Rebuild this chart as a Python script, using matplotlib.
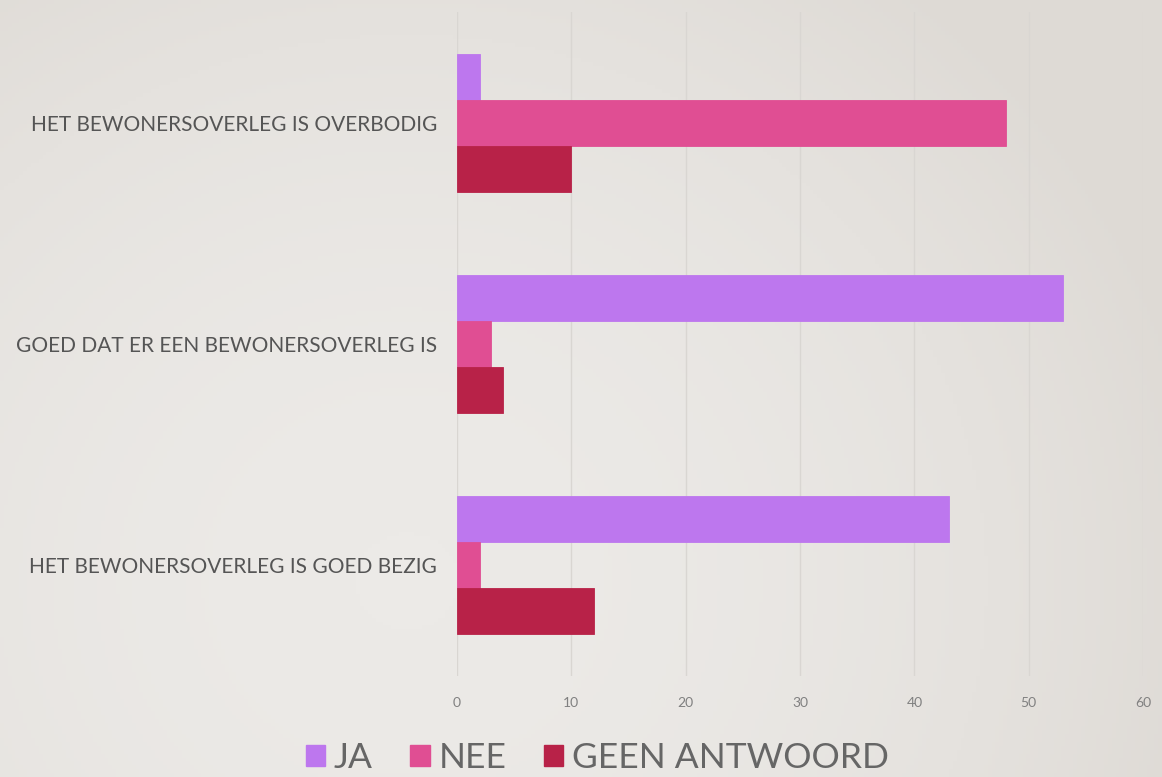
import numpy as np
import matplotlib
matplotlib.use('Agg')
import matplotlib.pyplot as plt
from matplotlib.patches import Patch

##### Data

categories = ['HET BEWONERSOVERLEG IS OVERBODIG',
              'GOED DAT ER EEN BEWONERSOVERLEG IS',
              'HET BEWONERSOVERLEG IS GOED BEZIG']
ja = [2, 53, 43]
nee = [48, 3, 2]
geen = [10, 4, 12]
series_names = ['JA', 'NEE', 'GEEN ANTWOORD']
colors = ['#BD77EE', '#E04E93', '#B82248']
xticks = [0, 10, 20, 30, 40, 50, 60]

plt.rcParams['font.family'] = ['Lato', 'DejaVu Sans']

fig = plt.figure(figsize=(11.62, 7.77), dpi=100)

##### Background: soft gradient like the slide
bg = fig.add_axes([0, 0, 1, 1], zorder=-10)
xx, yy = np.meshgrid(np.linspace(0, 1, 300), np.linspace(0, 1, 200))
shade = 0.5 * ((xx - 0.35) ** 2) + 0.25 * ((yy - 0.75) ** 2)
bg.imshow(shade, cmap=matplotlib.colors.LinearSegmentedColormap.from_list(
    'bg', ['#ECEAE7', '#DEDAD5']), aspect='auto', extent=[0, 1, 0, 1],
    vmin=0, vmax=0.25)
bg.axis('off')

ax = fig.add_axes([0.3933, 0.130, 0.5904, 0.8546])
ax.patch.set_alpha(0)

y = np.arange(len(categories))
h = 0.208
all_series = [ja, nee, geen]
for i in range(3):
    ax.barh(y + (i - 1) * h, all_series[i], height=h, color=colors[i],
            edgecolor=colors[i], linewidth=0.6, zorder=3)

ax.set_xlim(0, 60)
ax.set_ylim(len(categories) - 0.5, -0.5)
ax.set_xticks(xticks)
ax.set_xticklabels([str(t) for t in xticks], color='#808080', fontsize=10)
ax.set_yticks(y)
ax.set_yticklabels(categories, color='#555555', fontsize=15)
ax.tick_params(axis='both', length=0)
ax.tick_params(axis='x', pad=15)
ax.tick_params(axis='y', pad=14.5)
ax.grid(axis='x', color='#D9D6D2', linewidth=1, zorder=0)
for s in ax.spines.values():
    s.set_visible(False)

handles = [Patch(facecolor=c, edgecolor=c) for c in colors]
fig.legend(handles, series_names, loc='center', bbox_to_anchor=(0.514, 0.024),
           ncol=3, frameon=False, fontsize=25.5, labelcolor='#666666',
           handlelength=0.55, handleheight=0.55, handletextpad=0.25,
           columnspacing=1.05)

fig.savefig('out.png', dpi=100)
